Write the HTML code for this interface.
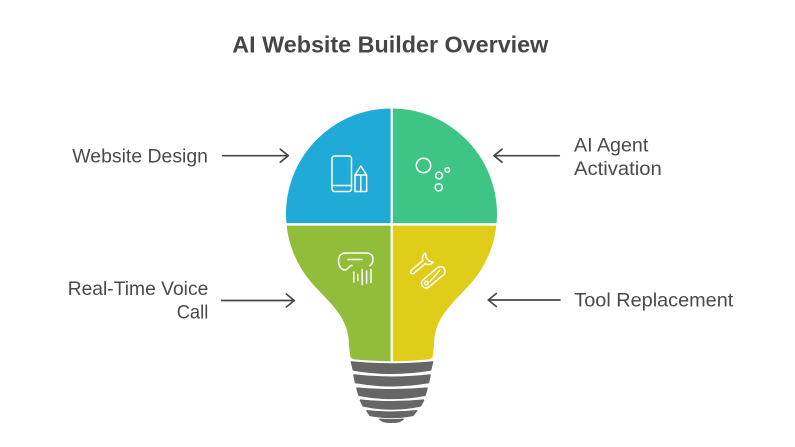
<!DOCTYPE html>
<html>
<head>
<meta charset="utf-8">
<style>
  html,body{margin:0;padding:0;background:#fff;}
  svg{display:block;}
  text{font-family:"Liberation Sans", Arial, sans-serif;}
</style>
</head>
<body>
<svg width="795" height="447" viewBox="0 0 795 447" xmlns="http://www.w3.org/2000/svg">
  <rect width="795" height="447" fill="#fff"/>
  <defs>
    <clipPath id="bulb">
      <path d="M 313.5 285 A 105.5 105.5 0 1 1 469.5 285 C 452 304 434 318 434 345 L 433 355 Q 432.5 359 428 359.5 Q 391.5 363 355 359.5 Q 350.5 359 350 355 L 349 345 C 349 318 331 304 313.5 285 Z"/>
    </clipPath>
  </defs>

  <!-- Title -->
  <text x="232.3" y="52.3" font-size="23.3" font-weight="bold" fill="#464646" textLength="316" lengthAdjust="spacingAndGlyphs">AI Website Builder Overview</text>

  <!-- Bulb quadrants -->
  <g clip-path="url(#bulb)">
    <rect x="280" y="100" width="112" height="125" fill="#1faad8"/>
    <rect x="391" y="100" width="112" height="125" fill="#3ec585"/>
    <rect x="280" y="224" width="112" height="145" fill="#92bd3a"/>
    <rect x="391" y="224" width="112" height="145" fill="#e0cd1a"/>
  </g>
  <line x1="391.7" y1="104" x2="391.7" y2="366" stroke="#fff" stroke-width="2.2"/>
  <line x1="280" y1="224.4" x2="505" y2="224.4" stroke="#fff" stroke-width="2.5"/>

  <!-- Base threads -->
  <g fill="#666666" stroke="#666666" stroke-width="1.6" stroke-linejoin="round">
    <path d="M 351.5 362 Q 391.5 366 432.5 362 L 430.5 370 Q 391.5 376.5 353.5 370 Z"/>
    <path d="M 354 375 Q 391.5 379.5 430 375 L 428.5 382.5 Q 391.5 389 355.5 382.5 Z"/>
    <path d="M 357 388.2 Q 391.5 391.5 427 388.2 L 425 395.2 Q 391.5 401.5 359 395.2 Z"/>
    <path d="M 360.5 400.2 Q 391.5 403.5 423.5 400.2 L 420.5 405.8 Q 391.5 412 363 405.8 Z"/>
    <path d="M 367 410.8 Q 391.5 413.5 416.5 410.8 L 413 415.3 Q 391.5 419.5 370 415.3 Z"/>
    <path d="M 380 419.3 Q 391.5 420.5 403 419.3 L 399.5 421.5 Q 391.5 423 383.5 421.5 Z"/>
  </g>

  <!-- Icons -->
  <g fill="none" stroke="#fff" stroke-width="1.5" stroke-linecap="round" stroke-linejoin="round">
    <!-- phone -->
    <rect x="332" y="156" width="19.5" height="35.5" rx="2.5"/>
    <line x1="332" y1="185.5" x2="351.5" y2="185.5"/>
    <!-- pencil -->
    <path d="M 355 191.5 L 355 175 L 360.8 166 L 366.6 175 L 366.6 191.5 Z"/>
    <line x1="355" y1="175" x2="366.6" y2="175"/>
    <line x1="360.8" y1="175" x2="360.8" y2="191.5"/>
    <!-- bubbles -->
    <circle cx="423.5" cy="165.5" r="7.2"/>
    <circle cx="439" cy="175.5" r="3.4"/>
    <circle cx="447.3" cy="170" r="2.3"/>
    <circle cx="438.7" cy="187.3" r="3.6"/>
    <!-- voice goggle -->
    <path d="M 370 265.5 C 372.5 264 373 262 373 259.5 C 373 255.5 370.5 253 366 253 L 346 253 C 341 253 338.5 256 338.5 261 C 338.5 266 341.5 270 345 270 C 348 270 348.5 265.5 352 265.5"/>
    <line x1="348" y1="259.5" x2="362" y2="259.5"/>
    <line x1="353.8" y1="272" x2="353.8" y2="282"/>
    <line x1="357.8" y1="274.5" x2="357.8" y2="280.5"/>
    <line x1="362.2" y1="269.5" x2="362.2" y2="284.5"/>
    <line x1="366.6" y1="271" x2="366.6" y2="283"/>
    <line x1="371" y1="269.5" x2="371" y2="282.5"/>
    <!-- wrench -->
    <g transform="translate(421,264.7) rotate(-40)">
      <path d="M -11 -2 L 4 -2 A 6 6 0 0 1 11 -6 L 8.5 -2.3 L 8.5 2.3 L 11 6 A 6 6 0 0 1 4 2 L -11 2 A 2 2 0 0 1 -11 -2 Z"/>
    </g>
    <!-- capsule pin -->
    <g transform="translate(433.3,277.3) rotate(-40)">
      <rect x="-14" y="-4.6" width="28" height="9.2" rx="4.6"/>
      <circle cx="-9" cy="0" r="1.8"/>
      <line x1="-5" y1="1" x2="9" y2="-1"/>
    </g>
  </g>

  <!-- Arrows -->
  <g fill="none" stroke="#474747" stroke-width="1.7" stroke-linecap="round" stroke-linejoin="round">
    <line x1="222.7" y1="155.7" x2="288.3" y2="155.7"/>
    <path d="M 280.3 149.2 L 288.3 155.7 L 280.3 162.2"/>
    <line x1="494" y1="155.7" x2="559.3" y2="155.7"/>
    <path d="M 502 149.2 L 494 155.7 L 502 162.2"/>
    <line x1="221.7" y1="300.5" x2="294.3" y2="300.5"/>
    <path d="M 286.3 294 L 294.3 300.5 L 286.3 307"/>
    <line x1="488.3" y1="300" x2="560" y2="300"/>
    <path d="M 496.3 293.5 L 488.3 300 L 496.3 306.5"/>
  </g>

  <!-- Labels -->
  <g font-size="19.5" fill="#4a4a4a">
    <text x="72.3" y="162.3" textLength="135.7" lengthAdjust="spacingAndGlyphs">Website Design</text>
    <text x="574" y="151.7" textLength="74.3" lengthAdjust="spacingAndGlyphs">AI Agent</text>
    <text x="574" y="175" textLength="87.7" lengthAdjust="spacingAndGlyphs">Activation</text>
    <text x="67.7" y="295" textLength="140.6" lengthAdjust="spacingAndGlyphs">Real-Time Voice</text>
    <text x="176.7" y="318.3" textLength="31.6" lengthAdjust="spacingAndGlyphs">Call</text>
    <text x="574.3" y="306.7" textLength="159" lengthAdjust="spacingAndGlyphs">Tool Replacement</text>
  </g>
</svg>
</body>
</html>
